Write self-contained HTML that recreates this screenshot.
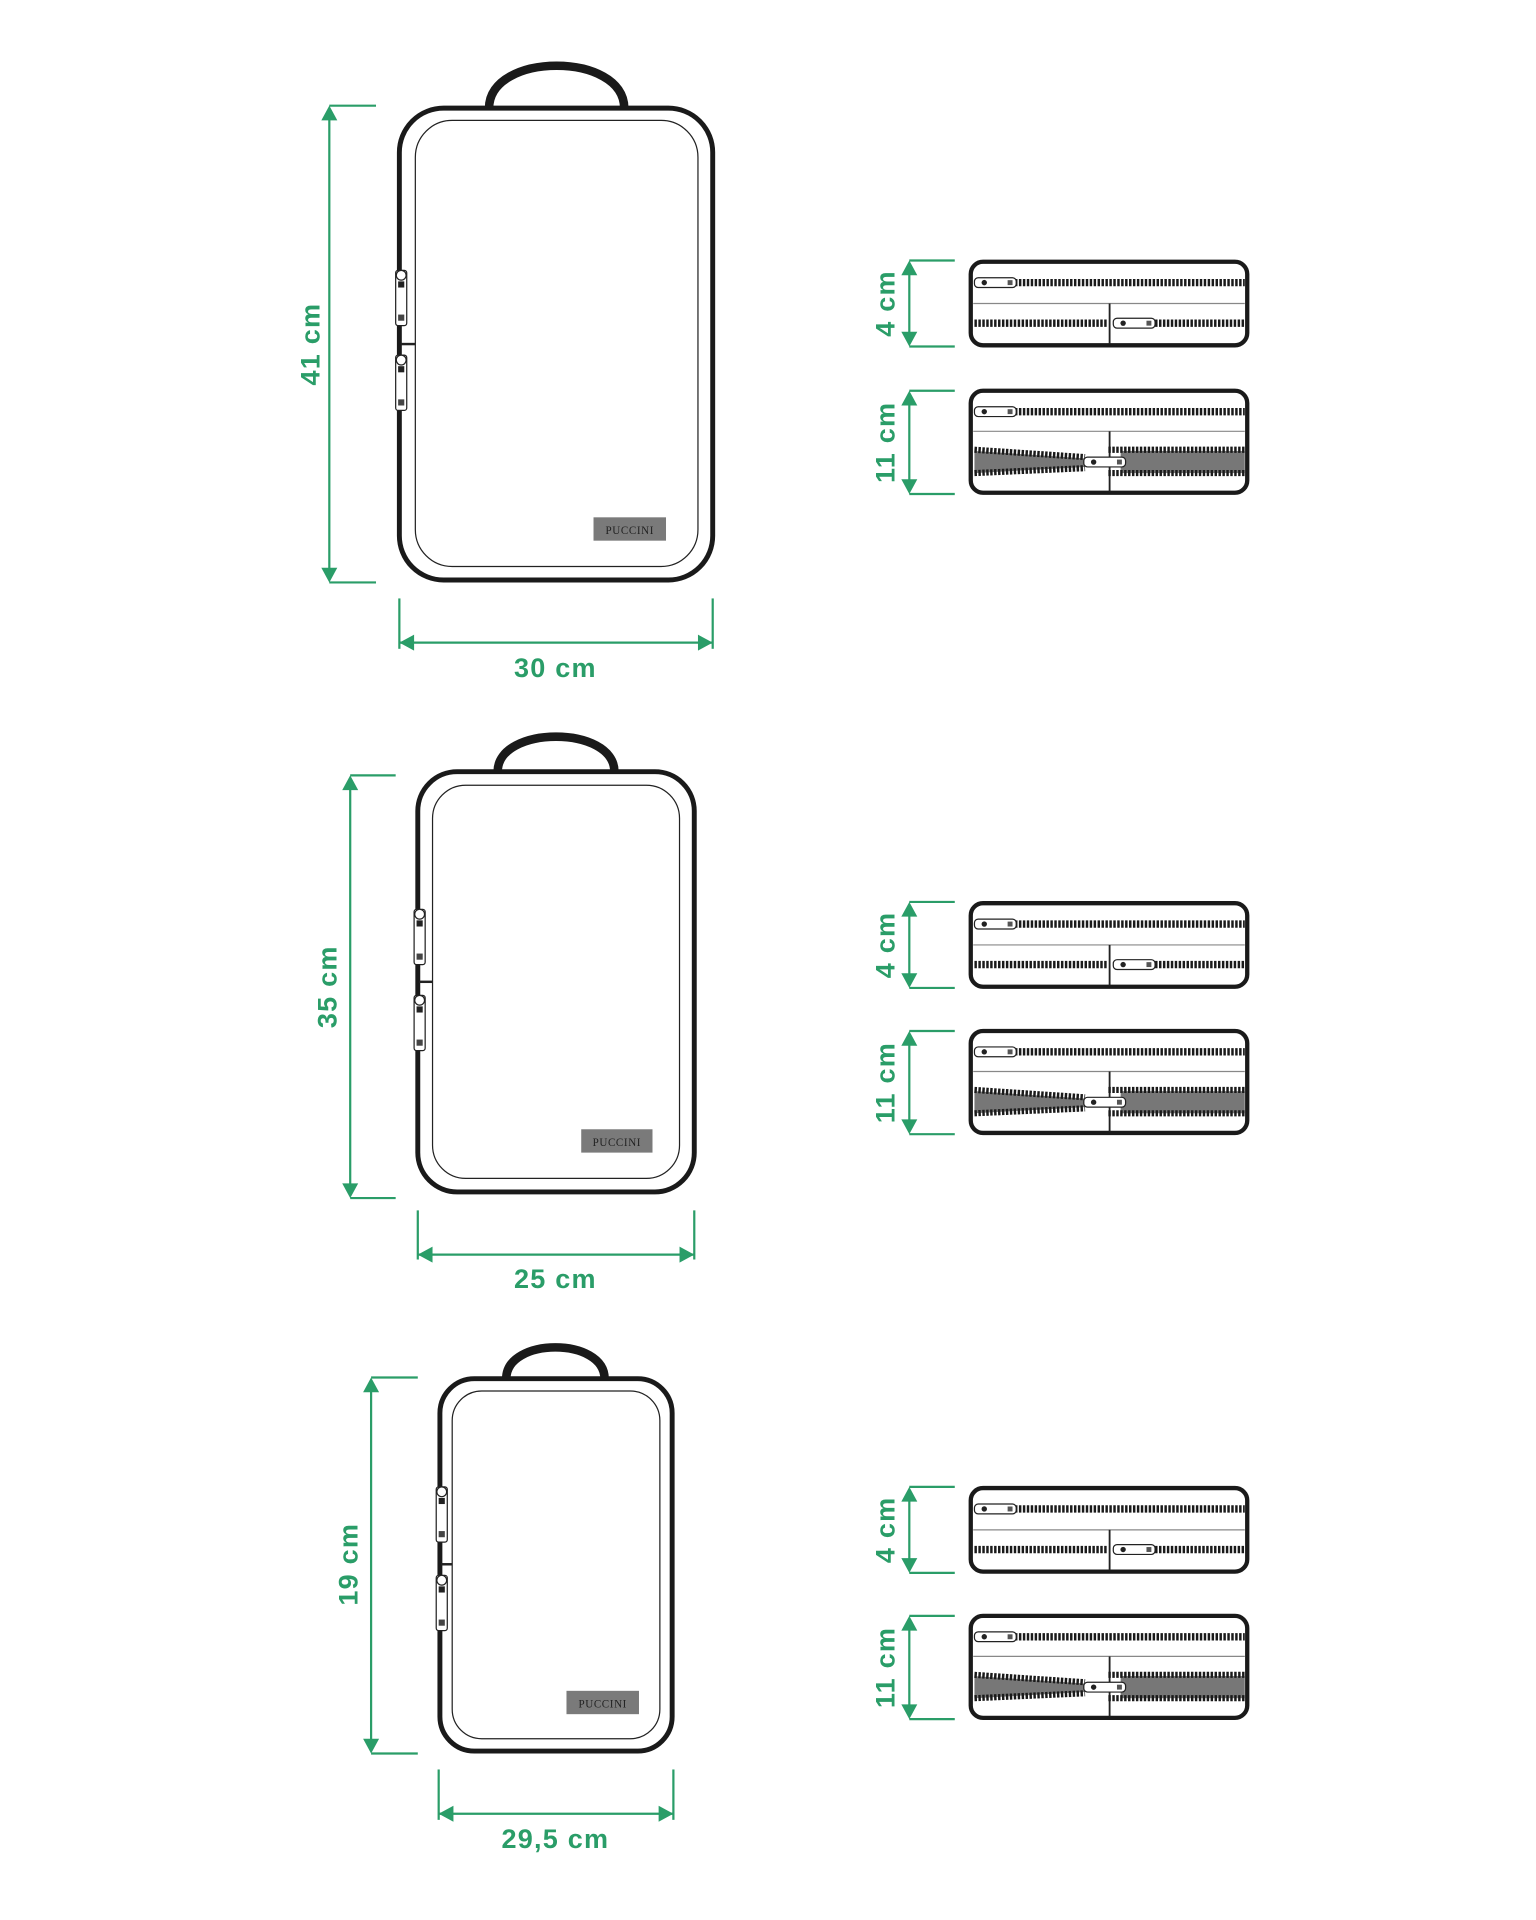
<!DOCTYPE html>
<html><head><meta charset="utf-8"><style>
html,body{margin:0;padding:0;background:#fff;}
svg{display:block;}
text{font-family:"Liberation Sans",sans-serif;fill:#2a9d68;font-size:22px;letter-spacing:1px;font-weight:bold;}
</style></head><body>
<svg width="1536" height="1920" viewBox="0 0 1250 1562.5" xmlns="http://www.w3.org/2000/svg">
<defs>
  <g id="pz">
    <rect x="0" y="0" width="34" height="8" rx="3" fill="#fff" stroke="#222" stroke-width="1"/>
    <circle cx="8" cy="4" r="2.2" fill="#222"/>
    <rect x="27" y="2" width="4" height="4" fill="#555"/>
  </g>
  <g id="vz">
    <rect x="-4" y="0" width="9" height="45" rx="2" fill="#fff" stroke="#222" stroke-width="1"/>
    <circle cx="0.5" cy="4" r="4" fill="#fff" stroke="#222" stroke-width="1"/>
    <rect x="-2" y="9" width="5" height="5" fill="#222"/>
    <rect x="-2" y="36" width="5" height="5" fill="#444"/>
  </g>
  <g id="p4">
    <rect x="0" y="0" width="225" height="68" rx="10" fill="#fff" stroke="#1a1a1a" stroke-width="3.5"/>
    <line x1="2" y1="34" x2="223" y2="34" stroke="#888" stroke-width="1"/>
    <line x1="113" y1="34" x2="113" y2="67" stroke="#222" stroke-width="1.5"/>
    <line x1="36" y1="17" x2="223" y2="17" stroke="#1a1a1a" stroke-width="6" stroke-dasharray="2 1.2"/>
    <use href="#pz" x="3" y="13"/>
    <line x1="3" y1="50" x2="111" y2="50" stroke="#1a1a1a" stroke-width="6" stroke-dasharray="2 1.2"/>
    <line x1="150" y1="50" x2="223" y2="50" stroke="#1a1a1a" stroke-width="6" stroke-dasharray="2 1.2"/>
    <use href="#pz" x="116" y="46"/>
  </g>
  <g id="p11">
    <rect x="0" y="0" width="225" height="83" rx="10" fill="#fff" stroke="#1a1a1a" stroke-width="3.5"/>
    <line x1="2" y1="33" x2="223" y2="33" stroke="#888" stroke-width="1"/>
    <line x1="113" y1="33" x2="113" y2="82" stroke="#222" stroke-width="1.5"/>
    <line x1="36" y1="17" x2="223" y2="17" stroke="#1a1a1a" stroke-width="6" stroke-dasharray="2 1.2"/>
    <use href="#pz" x="3" y="13"/>
    <polygon points="3,49 93,55 93,62 3,67" fill="#777"/>
    <rect x="122" y="49" width="101" height="18" fill="#777"/>
    <line x1="3" y1="48" x2="93" y2="54" stroke="#1a1a1a" stroke-width="5" stroke-dasharray="2 1.2"/>
    <line x1="3" y1="67" x2="93" y2="63" stroke="#1a1a1a" stroke-width="5" stroke-dasharray="2 1.2"/>
    <line x1="112" y1="48" x2="223" y2="48" stroke="#1a1a1a" stroke-width="5" stroke-dasharray="2 1.2"/>
    <line x1="112" y1="67" x2="223" y2="67" stroke="#1a1a1a" stroke-width="5" stroke-dasharray="2 1.2"/>
    <use href="#pz" x="92" y="54"/>
  </g>
  <g id="av"><polygon points="0,0 -6.5,12 6.5,12" fill="#2a9d68"/></g>
</defs>

<!-- Bag 1 -->
<path d="M398,88 C398,42 508,42 508,88" fill="none" stroke="#1a1a1a" stroke-width="7"/>
<rect x="325" y="88" width="255" height="384" rx="36" fill="#fff" stroke="#1a1a1a" stroke-width="4"/>
<rect x="338" y="98" width="230" height="363" rx="30" fill="none" stroke="#222" stroke-width="1"/>
<line x1="326" y1="280" x2="338" y2="280" stroke="#222" stroke-width="2"/>
<use href="#vz" x="326" y="220"/><use href="#vz" x="326" y="289"/>
<rect x="483" y="421" width="59" height="19" fill="#7a7a7a"/>
<text x="512.5" y="434.5" text-anchor="middle" style="font-family:'Liberation Serif',serif;font-size:9px;fill:#222;letter-spacing:0.5px;font-weight:normal">PUCCINI</text>
<g stroke="#2a9d68" stroke-width="1.8">
<line x1="268" y1="88" x2="268" y2="472"/><line x1="268" y1="86" x2="306" y2="86"/><line x1="268" y1="474" x2="306" y2="474"/>
<line x1="325" y1="523" x2="580" y2="523"/><line x1="325" y1="487" x2="325" y2="528"/><line x1="580" y1="487" x2="580" y2="528"/>
</g>
<use href="#av" x="268" y="86"/><use href="#av" transform="translate(268,474) rotate(180)"/>
<use href="#av" transform="translate(325,523) rotate(-90)"/><use href="#av" transform="translate(580,523) rotate(90)"/>
<text x="260" y="280" text-anchor="middle" transform="rotate(-90 260 280)">41 cm</text>
<text x="452" y="551" text-anchor="middle">30 cm</text>

<!-- Bag 2 -->
<path d="M405,628 C405,590 500,590 500,628" fill="none" stroke="#1a1a1a" stroke-width="7"/>
<rect x="340" y="628" width="225" height="342" rx="32" fill="#fff" stroke="#1a1a1a" stroke-width="4"/>
<rect x="352" y="639" width="201" height="320" rx="27" fill="none" stroke="#222" stroke-width="1"/>
<line x1="341" y1="799" x2="352" y2="799" stroke="#222" stroke-width="2"/>
<use href="#vz" x="341" y="740"/><use href="#vz" x="341" y="810"/>
<rect x="473" y="919" width="58" height="19" fill="#7a7a7a"/>
<text x="502" y="932.5" text-anchor="middle" style="font-family:'Liberation Serif',serif;font-size:9px;fill:#222;letter-spacing:0.5px;font-weight:normal">PUCCINI</text>
<g stroke="#2a9d68" stroke-width="1.8">
<line x1="285" y1="633" x2="285" y2="973"/><line x1="285" y1="631" x2="322" y2="631"/><line x1="285" y1="975" x2="322" y2="975"/>
<line x1="340" y1="1021" x2="565" y2="1021"/><line x1="340" y1="985" x2="340" y2="1025"/><line x1="565" y1="985" x2="565" y2="1025"/>
</g>
<use href="#av" x="285" y="631"/><use href="#av" transform="translate(285,975) rotate(180)"/>
<use href="#av" transform="translate(340,1021) rotate(-90)"/><use href="#av" transform="translate(565,1021) rotate(90)"/>
<text x="274" y="803" text-anchor="middle" transform="rotate(-90 274 803)">35 cm</text>
<text x="452" y="1048" text-anchor="middle">25 cm</text>

<!-- Bag 3 -->
<path d="M412,1122 C412,1088 492,1088 492,1122" fill="none" stroke="#1a1a1a" stroke-width="7"/>
<rect x="358" y="1122" width="189" height="303" rx="28" fill="#fff" stroke="#1a1a1a" stroke-width="4"/>
<rect x="368" y="1132" width="169" height="283" rx="24" fill="none" stroke="#222" stroke-width="1"/>
<line x1="359" y1="1273" x2="368" y2="1273" stroke="#222" stroke-width="2"/>
<use href="#vz" x="359" y="1210"/><use href="#vz" x="359" y="1282"/>
<rect x="461" y="1376" width="59" height="19" fill="#7a7a7a"/>
<text x="490.5" y="1389.5" text-anchor="middle" style="font-family:'Liberation Serif',serif;font-size:9px;fill:#222;letter-spacing:0.5px;font-weight:normal">PUCCINI</text>
<g stroke="#2a9d68" stroke-width="1.8">
<line x1="302" y1="1123" x2="302" y2="1425"/><line x1="302" y1="1121" x2="340" y2="1121"/><line x1="302" y1="1427" x2="340" y2="1427"/>
<line x1="357" y1="1476" x2="548" y2="1476"/><line x1="357" y1="1440" x2="357" y2="1481"/><line x1="548" y1="1440" x2="548" y2="1481"/>
</g>
<use href="#av" x="302" y="1121"/><use href="#av" transform="translate(302,1427) rotate(180)"/>
<use href="#av" transform="translate(357,1476) rotate(-90)"/><use href="#av" transform="translate(548,1476) rotate(90)"/>
<text x="291" y="1273" text-anchor="middle" transform="rotate(-90 291 1273)">19 cm</text>
<text x="452" y="1504" text-anchor="middle">29,5 cm</text>

<!-- Pouches -->
<use href="#p4" x="790" y="213"/><use href="#p11" x="790" y="318"/>
<use href="#p4" x="790" y="735"/><use href="#p11" x="790" y="839"/>
<use href="#p4" x="790" y="1211"/><use href="#p11" x="790" y="1315"/>

<g stroke="#2a9d68" stroke-width="1.8">
<line x1="740" y1="214" x2="740" y2="280"/><line x1="740" y1="212" x2="777" y2="212"/><line x1="740" y1="282" x2="777" y2="282"/>
<line x1="740" y1="320" x2="740" y2="400"/><line x1="740" y1="318" x2="777" y2="318"/><line x1="740" y1="402" x2="777" y2="402"/>
<line x1="740" y1="736" x2="740" y2="802"/><line x1="740" y1="734" x2="777" y2="734"/><line x1="740" y1="804" x2="777" y2="804"/>
<line x1="740" y1="841" x2="740" y2="921"/><line x1="740" y1="839" x2="777" y2="839"/><line x1="740" y1="923" x2="777" y2="923"/>
<line x1="740" y1="1212" x2="740" y2="1278"/><line x1="740" y1="1210" x2="777" y2="1210"/><line x1="740" y1="1280" x2="777" y2="1280"/>
<line x1="740" y1="1317" x2="740" y2="1397"/><line x1="740" y1="1315" x2="777" y2="1315"/><line x1="740" y1="1399" x2="777" y2="1399"/>
</g>
<use href="#av" x="740" y="212"/><use href="#av" transform="translate(740,282) rotate(180)"/>
<use href="#av" x="740" y="318"/><use href="#av" transform="translate(740,402) rotate(180)"/>
<use href="#av" x="740" y="734"/><use href="#av" transform="translate(740,804) rotate(180)"/>
<use href="#av" x="740" y="839"/><use href="#av" transform="translate(740,923) rotate(180)"/>
<use href="#av" x="740" y="1210"/><use href="#av" transform="translate(740,1280) rotate(180)"/>
<use href="#av" x="740" y="1315"/><use href="#av" transform="translate(740,1399) rotate(180)"/>
<text x="728" y="247" text-anchor="middle" transform="rotate(-90 728 247)">4 cm</text>
<text x="728" y="360" text-anchor="middle" transform="rotate(-90 728 360)">11 cm</text>
<text x="728" y="769" text-anchor="middle" transform="rotate(-90 728 769)">4 cm</text>
<text x="728" y="881" text-anchor="middle" transform="rotate(-90 728 881)">11 cm</text>
<text x="728" y="1245" text-anchor="middle" transform="rotate(-90 728 1245)">4 cm</text>
<text x="728" y="1357" text-anchor="middle" transform="rotate(-90 728 1357)">11 cm</text>
</svg>
</body></html>
